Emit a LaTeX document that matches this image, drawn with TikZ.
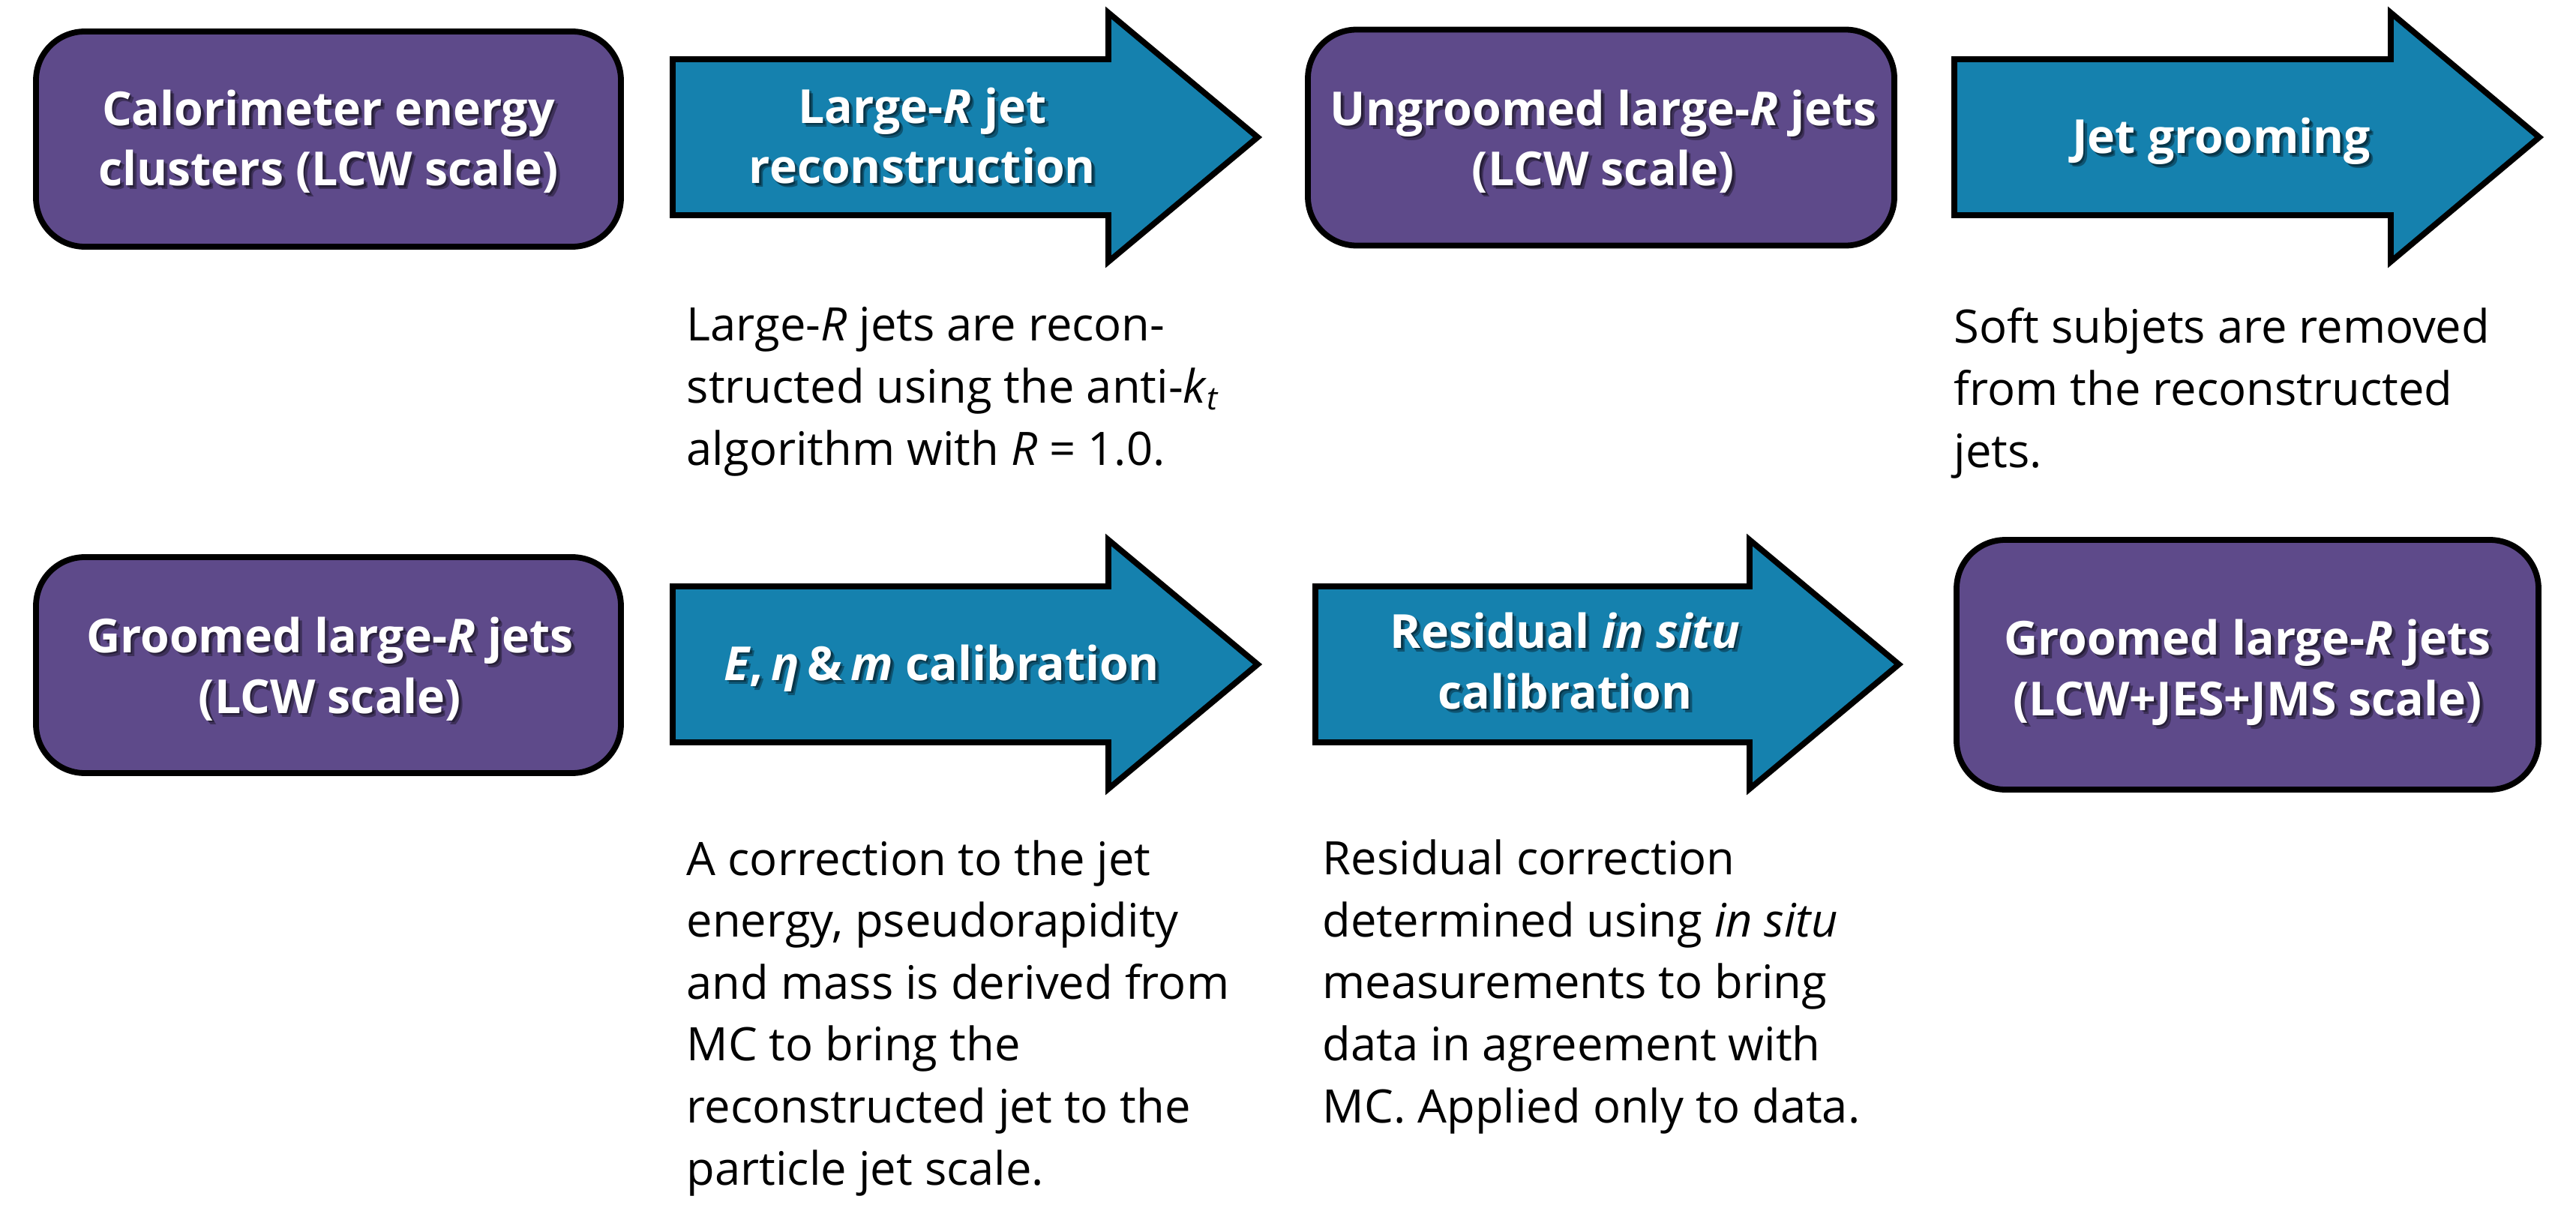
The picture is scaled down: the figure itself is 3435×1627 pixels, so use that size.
\documentclass[tikz,border=0pt]{standalone}
\usepackage{fontspec}
\setmainfont{Open Sans}
\definecolor{boxpurple}{HTML}{5E4A8A}
\definecolor{arrowblue}{HTML}{1581AE}
\tikzset{
  box/.style={draw=black, line width=0.78mm, fill=boxpurple, rounded corners=6.5mm, inner sep=0pt},
  arr/.style={draw=black, line width=0.78mm, fill=arrowblue, line join=miter},
  desc/.style={inner sep=0pt, anchor=base west, align=left, font=\fontsize{17.5}{23.5}\selectfont},
  lab/.style={inner sep=0pt, anchor=base, text=white, align=center, font=\bfseries\fontsize{17.8}{23}\selectfont},
  labshadow/.style={lab, text=black, text opacity=0.35},
}
% #1 body left, #2 head base, #3 tip, #4 centre line
\newcommand\flowarrow[4]{%
  \draw[arr] (#1,#4-104) -- (#2,#4-104) -- (#2,#4-166) -- (#3,#4) -- (#2,#4+166) -- (#2,#4+104) -- (#1,#4+104) -- cycle;}
% label with a soft dark shadow; #2 is the baseline of the LAST line
\newcommand\mklabel[3]{%
  \node[labshadow] (#1s2) at ([shift={(5,5)}]#2) {#3};
  \node[labshadow] (#1s) at ([shift={(2.5,2.5)}]#2) {#3};
  \node[lab] (#1) at (#2) {#3};}
\newcommand\tsp{\hspace{0.17em}}
\begin{document}
\begin{tikzpicture}[x=0.1mm,y=-0.1mm]
\fill[white] (0,0) rectangle (3435,1627);
\useasboundingbox (0,0) rectangle (3435,1627);
% boxes
\node[box, minimum width=78mm, minimum height=28.7mm] (B1) at (438,185.5) {};
\node[box, minimum width=78.2mm, minimum height=28.8mm] (B2) at (2135,183.5) {};
\node[box, minimum width=78mm, minimum height=28.8mm] (B3) at (438,887) {};
\node[box, minimum width=77.6mm, minimum height=33.3mm] (B4) at (2997,886.5) {};
% arrows
\flowarrow{897}{1478}{1677}{183}
\flowarrow{2606}{3188}{3386}{183}
\flowarrow{897}{1478}{1677}{886}
\flowarrow{1754}{2333}{2532}{886}
% labels
\mklabel{L1}{438,248}{Calorimeter energy\\clusters (LCW scale)}
\mklabel{L2}{1230,245}{Large-\textit{R} jet\\reconstruction}
\mklabel{L3}{2138,248}{Ungroomed large-\textit{R} jets\\(LCW scale)}
\mklabel{L4}{2962,205}{Jet grooming}
\mklabel{L5}{440,951}{Groomed large-\textit{R} jets\\(LCW scale)}
\mklabel{L6}{1256,907}{\textit{E},\tsp\textit{η}\tsp\&\tsp\textit{m} calibration}
\mklabel{L7}{2087,945}{Residual \textit{in situ}\\calibration}
\mklabel{L8}{2997,954}{Groomed large-\textit{R} jets\\(LCW+JES+JMS scale)}
% descriptions (anchored at the baseline of the last line)
\node[desc] (T1) at (915,620) {Large-\textit{R} jets are recon-\\structed using the anti-\textit{k}\textsubscript{\textit{t}}\\algorithm with \textit{R} = 1.0.};
\node[desc] (T2) at (2605,623) {Soft subjets are removed\\from the reconstructed\\jets.};
\node[desc] (T3) at (915,1580) {A correction to the jet\\energy, pseudorapidity\\and mass is derived from\\MC to bring the\\reconstructed jet to the\\particle jet scale.};
\node[desc] (T4) at (1763,1497) {Residual correction\\determined using \textit{in situ}\\measurements to bring\\data in agreement with\\MC. Applied only to data.};
\end{tikzpicture}
\end{document}
